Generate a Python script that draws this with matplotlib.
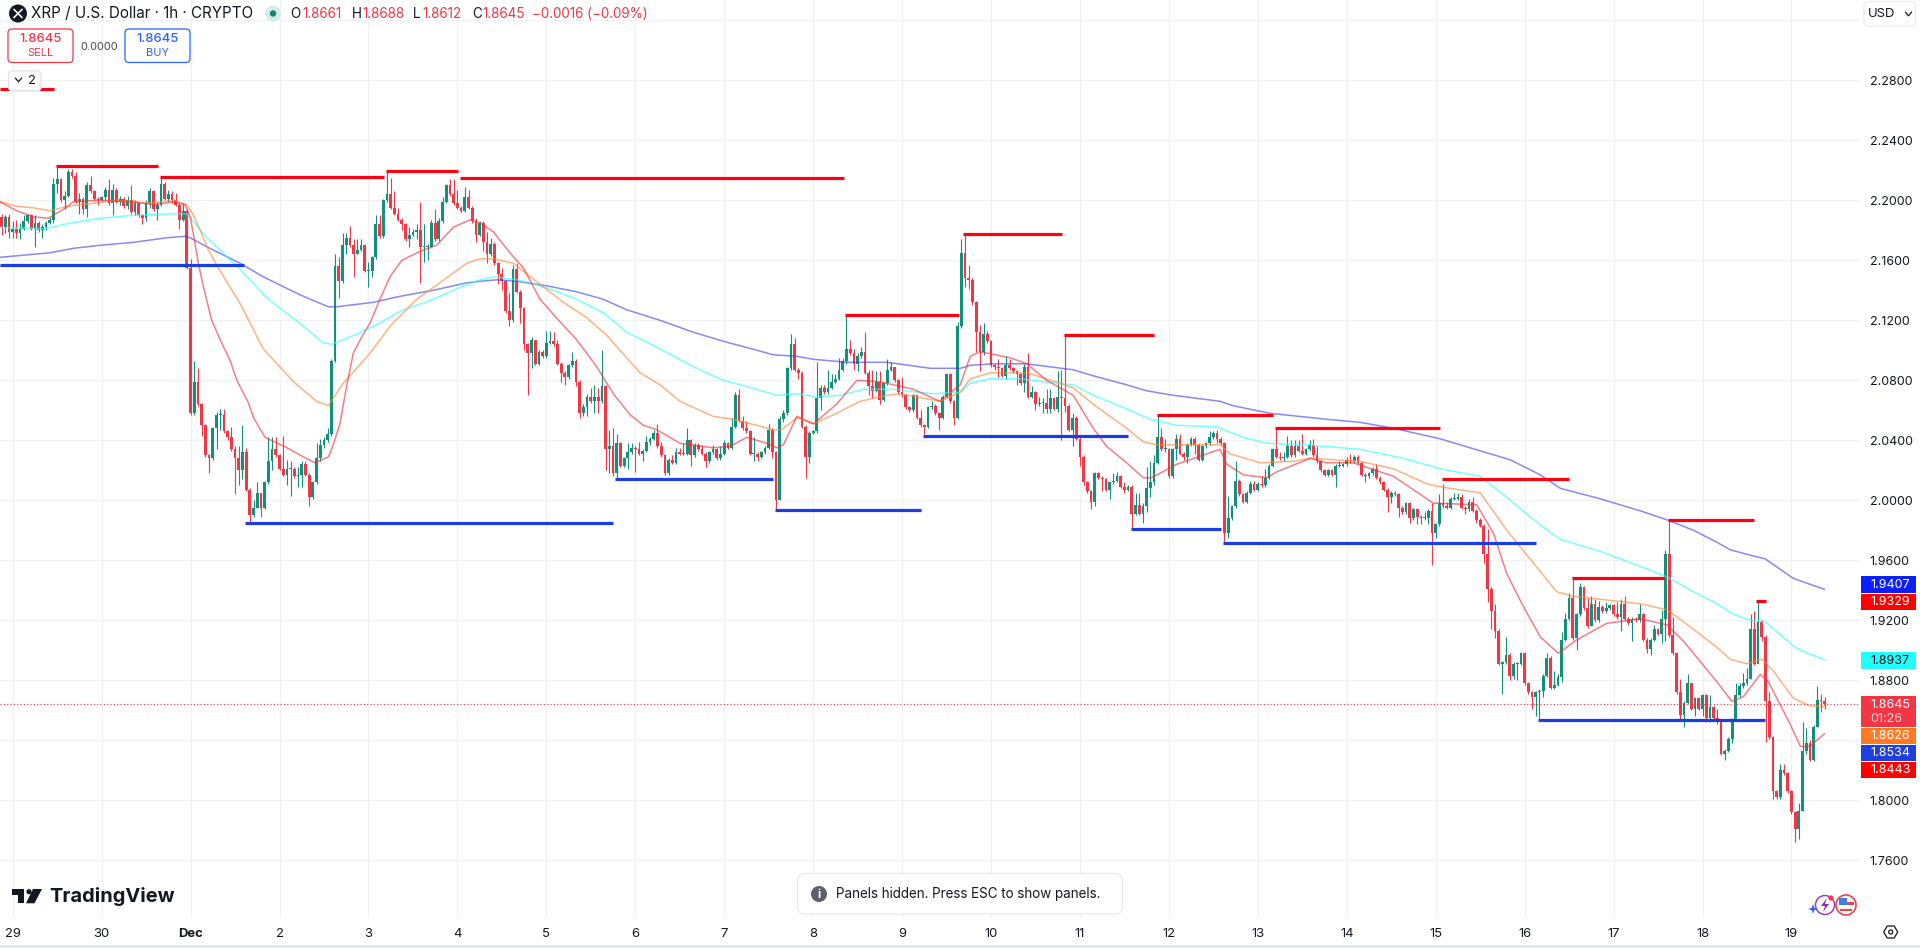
import numpy as np
import matplotlib
matplotlib.use("Agg")
import matplotlib.pyplot as plt
from matplotlib.patches import Circle, FancyBboxPatch, Polygon, Rectangle

plt.rcParams["font.family"] = ["Inter", "DejaVu Sans"]

# hourly candles, hour 0 = Nov 29 00:00
first_open = 2.189
closes = [
    2.182, 2.189, 2.179,
    2.181, 2.178, 2.181, 2.186, 2.190, 2.181, 2.185, 2.180, 2.182, 2.185, 2.187, 2.211, 2.214, 2.200, 2.203, 2.219, 2.216, 2.199, 2.201, 2.194, 2.210, 2.206, 2.201, 2.200,
    2.202, 2.207, 2.198, 2.207, 2.199, 2.201, 2.196, 2.200, 2.192, 2.198, 2.190, 2.188, 2.198, 2.206, 2.194, 2.197, 2.211, 2.201, 2.204, 2.200, 2.197, 2.187, 2.193, 2.155,
    2.058, 2.079, 2.064, 2.050, 2.030, 2.028, 2.048, 2.057, 2.057, 2.046, 2.042, 2.034, 2.028, 2.020, 2.032, 2.007, 1.990, 1.995, 2.005, 1.995, 2.012, 2.026, 2.034, 2.030,
    2.021, 2.017, 2.021, 2.021, 2.016, 2.017, 2.024, 2.017, 2.002, 2.012, 2.028, 2.037, 2.040, 2.044, 2.093, 2.156, 2.146, 2.170, 2.175, 2.170, 2.164, 2.167, 2.170, 2.153,
    2.153, 2.162, 2.184, 2.176, 2.200, 2.204, 2.195, 2.191, 2.187, 2.184, 2.174, 2.177, 2.179, 2.180, 2.169, 2.169, 2.169, 2.185, 2.174, 2.186, 2.199, 2.210, 2.204, 2.198,
    2.195, 2.193, 2.202, 2.195, 2.186, 2.177, 2.185, 2.172, 2.164, 2.171, 2.158, 2.151, 2.146, 2.126, 2.120, 2.154, 2.139, 2.128, 2.104, 2.098, 2.107, 2.091, 2.099, 2.096,
    2.105, 2.106, 2.104, 2.091, 2.085, 2.082, 2.090, 2.093, 2.079, 2.058, 2.062, 2.069, 2.066, 2.069, 2.066, 2.076, 2.034, 2.036, 2.018, 2.038, 2.023, 2.028, 2.032, 2.035,
    2.034, 2.031, 2.033, 2.039, 2.041, 2.045, 2.036, 2.030, 2.018, 2.027, 2.025, 2.032, 2.031, 2.031, 2.040, 2.030, 2.037, 2.034, 2.031, 2.026, 2.032, 2.034, 2.028, 2.031,
    2.038, 2.035, 2.049, 2.070, 2.053, 2.048, 2.046, 2.031, 2.031, 2.029, 2.032, 2.035, 2.047, 2.032, 2.000, 2.054, 2.058, 2.088, 2.104, 2.087, 2.085, 2.049, 2.029, 2.045,
    2.046, 2.068, 2.075, 2.072, 2.075, 2.079, 2.081, 2.087, 2.093, 2.101, 2.098, 2.091, 2.096, 2.099, 2.085, 2.076, 2.073, 2.079, 2.067, 2.078, 2.087, 2.089, 2.080, 2.072,
    2.070, 2.062, 2.060, 2.070, 2.055, 2.050, 2.049, 2.062, 2.063, 2.058, 2.055, 2.069, 2.084, 2.066, 2.055, 2.116, 2.165, 2.148, 2.147, 2.132, 2.112, 2.099, 2.111, 2.106,
    2.090, 2.089, 2.088, 2.083, 2.090, 2.088, 2.086, 2.084, 2.078, 2.089, 2.069, 2.072, 2.064, 2.065, 2.065, 2.061, 2.068, 2.061, 2.069, 2.068, 2.063, 2.047, 2.055, 2.041,
    2.029, 2.012, 2.006, 1.999, 2.018, 2.015, 2.014, 2.007, 2.012, 2.013, 2.016, 2.009, 2.007, 2.009, 1.991, 1.997, 1.991, 1.996, 2.008, 2.012, 2.025, 2.042, 2.034, 2.034,
    2.016, 2.034, 2.041, 2.031, 2.029, 2.037, 2.041, 2.037, 2.027, 2.036, 2.038, 2.042, 2.045, 2.041, 2.038, 1.978, 1.988, 1.996, 2.013, 2.004, 1.999, 2.005, 2.011, 2.007,
    2.011, 2.010, 2.015, 2.023, 2.034, 2.029, 2.028, 2.029, 2.036, 2.030, 2.036, 2.033, 2.031, 2.034, 2.037, 2.030, 2.026, 2.020, 2.017, 2.020, 2.017, 2.023, 2.023, 2.024,
    2.027, 2.026, 2.029, 2.025, 2.017, 2.016, 2.018, 2.021, 2.015, 2.012, 2.007, 2.002, 2.005, 2.004, 1.995, 1.992, 1.998, 1.988, 1.994, 1.989, 1.988, 1.988, 1.993, 1.978,
    1.984, 1.998, 1.996, 1.995, 2.001, 2.001, 2.002, 1.995, 1.994, 1.999, 1.993, 1.987, 1.983, 1.964, 1.941, 1.926, 1.913, 1.891, 1.892, 1.897, 1.883, 1.891, 1.891, 1.898,
    1.878, 1.872, 1.869, 1.872, 1.873, 1.883, 1.895, 1.875, 1.877, 1.882, 1.907, 1.921, 1.935, 1.908, 1.924, 1.942, 1.928, 1.916, 1.931, 1.920, 1.929, 1.926, 1.928, 1.930,
    1.924, 1.922, 1.931, 1.921, 1.918, 1.921, 1.920, 1.924, 1.907, 1.901, 1.907, 1.914, 1.911, 1.921, 1.964, 1.910, 1.898, 1.872, 1.857, 1.865, 1.878, 1.861, 1.868, 1.861,
    1.870, 1.855, 1.862, 1.855, 1.852, 1.831, 1.833, 1.841, 1.854, 1.870, 1.876, 1.878, 1.881, 1.914, 1.891, 1.919, 1.909, 1.866, 1.842, 1.806, 1.802, 1.820, 1.818, 1.806,
    1.792, 1.781, 1.793, 1.833, 1.838, 1.827, 1.849, 1.867, 1.8661, 1.8645,
]
highs = [
    2.191, 2.190, 2.191,
    2.186, 2.187, 2.185, 2.190, 2.191, 2.191, 2.190, 2.186, 2.184, 2.186, 2.189, 2.215, 2.222, 2.215, 2.206, 2.221, 2.221, 2.219, 2.205, 2.202, 2.212, 2.216, 2.207, 2.202,
    2.203, 2.209, 2.214, 2.211, 2.208, 2.203, 2.202, 2.203, 2.210, 2.200, 2.199, 2.191, 2.200, 2.208, 2.207, 2.199, 2.215, 2.212, 2.207, 2.206, 2.205, 2.198, 2.198, 2.194,
    2.161, 2.093, 2.088, 2.065, 2.051, 2.031, 2.049, 2.059, 2.061, 2.061, 2.047, 2.049, 2.036, 2.036, 2.050, 2.035, 2.008, 2.000, 2.012, 2.005, 2.013, 2.042, 2.042, 2.042,
    2.031, 2.043, 2.027, 2.026, 2.022, 2.022, 2.026, 2.026, 2.018, 2.013, 2.038, 2.041, 2.042, 2.048, 2.094, 2.164, 2.162, 2.178, 2.178, 2.183, 2.174, 2.174, 2.174, 2.171,
    2.159, 2.163, 2.190, 2.190, 2.201, 2.219, 2.215, 2.206, 2.195, 2.188, 2.185, 2.182, 2.181, 2.184, 2.199, 2.184, 2.171, 2.187, 2.194, 2.188, 2.202, 2.211, 2.214, 2.214,
    2.207, 2.196, 2.209, 2.207, 2.196, 2.188, 2.186, 2.186, 2.179, 2.175, 2.172, 2.159, 2.155, 2.147, 2.138, 2.157, 2.158, 2.140, 2.129, 2.105, 2.109, 2.107, 2.100, 2.100,
    2.113, 2.113, 2.112, 2.107, 2.092, 2.086, 2.091, 2.099, 2.094, 2.080, 2.064, 2.071, 2.075, 2.077, 2.075, 2.100, 2.077, 2.047, 2.048, 2.044, 2.039, 2.029, 2.038, 2.038,
    2.036, 2.039, 2.034, 2.043, 2.042, 2.047, 2.051, 2.039, 2.031, 2.028, 2.030, 2.035, 2.035, 2.038, 2.048, 2.041, 2.038, 2.038, 2.037, 2.032, 2.033, 2.037, 2.035, 2.036,
    2.040, 2.039, 2.055, 2.072, 2.074, 2.056, 2.053, 2.047, 2.042, 2.032, 2.033, 2.036, 2.051, 2.048, 2.033, 2.056, 2.060, 2.089, 2.111, 2.108, 2.088, 2.086, 2.050, 2.046,
    2.047, 2.092, 2.077, 2.077, 2.087, 2.084, 2.084, 2.095, 2.095, 2.124, 2.107, 2.101, 2.098, 2.102, 2.112, 2.087, 2.087, 2.086, 2.086, 2.079, 2.094, 2.092, 2.089, 2.081,
    2.082, 2.071, 2.063, 2.071, 2.070, 2.060, 2.051, 2.063, 2.066, 2.064, 2.059, 2.070, 2.085, 2.085, 2.067, 2.119, 2.174, 2.178, 2.157, 2.148, 2.133, 2.117, 2.118, 2.113,
    2.107, 2.091, 2.094, 2.089, 2.096, 2.094, 2.089, 2.087, 2.085, 2.091, 2.098, 2.076, 2.073, 2.069, 2.068, 2.074, 2.074, 2.069, 2.086, 2.087, 2.110, 2.064, 2.058, 2.056,
    2.042, 2.030, 2.013, 2.007, 2.019, 2.019, 2.016, 2.015, 2.013, 2.018, 2.019, 2.017, 2.012, 2.010, 2.010, 2.005, 2.005, 1.998, 2.022, 2.026, 2.030, 2.057, 2.048, 2.041,
    2.035, 2.035, 2.044, 2.044, 2.032, 2.038, 2.042, 2.042, 2.038, 2.037, 2.039, 2.046, 2.046, 2.047, 2.042, 2.039, 2.003, 1.997, 2.026, 2.014, 2.005, 2.006, 2.013, 2.013,
    2.012, 2.016, 2.021, 2.024, 2.035, 2.049, 2.032, 2.032, 2.043, 2.040, 2.040, 2.040, 2.044, 2.035, 2.040, 2.041, 2.036, 2.027, 2.021, 2.021, 2.021, 2.024, 2.026, 2.025,
    2.029, 2.031, 2.030, 2.030, 2.026, 2.018, 2.019, 2.022, 2.024, 2.016, 2.013, 2.008, 2.006, 2.006, 2.005, 1.996, 1.999, 1.999, 1.995, 1.995, 1.990, 1.992, 1.994, 1.998,
    1.985, 2.004, 2.011, 1.999, 2.002, 2.005, 2.005, 2.004, 1.996, 2.001, 2.002, 1.994, 1.988, 1.984, 1.981, 1.942, 1.931, 1.914, 1.893, 1.909, 1.898, 1.892, 1.892, 1.899,
    1.899, 1.879, 1.873, 1.873, 1.874, 1.884, 1.898, 1.896, 1.886, 1.884, 1.912, 1.925, 1.938, 1.948, 1.925, 1.945, 1.943, 1.935, 1.936, 1.934, 1.933, 1.930, 1.932, 1.931,
    1.931, 1.932, 1.934, 1.936, 1.922, 1.922, 1.922, 1.931, 1.925, 1.908, 1.908, 1.917, 1.915, 1.927, 1.967, 1.987, 1.922, 1.899, 1.881, 1.866, 1.884, 1.878, 1.869, 1.869,
    1.871, 1.871, 1.870, 1.863, 1.861, 1.853, 1.834, 1.842, 1.855, 1.878, 1.878, 1.885, 1.888, 1.924, 1.926, 1.933, 1.920, 1.910, 1.872, 1.843, 1.807, 1.824, 1.824, 1.819,
    1.807, 1.793, 1.798, 1.852, 1.848, 1.840, 1.850, 1.876, 1.871, 1.8688,
]
lows = [
    2.177, 2.178, 2.175,
    2.175, 2.175, 2.174, 2.180, 2.185, 2.180, 2.169, 2.179, 2.175, 2.180, 2.184, 2.185, 2.205, 2.199, 2.194, 2.202, 2.215, 2.198, 2.191, 2.191, 2.189, 2.205, 2.200, 2.197,
    2.199, 2.200, 2.197, 2.190, 2.198, 2.197, 2.195, 2.194, 2.191, 2.190, 2.189, 2.184, 2.186, 2.195, 2.193, 2.187, 2.196, 2.200, 2.199, 2.198, 2.196, 2.181, 2.186, 2.154,
    2.057, 2.057, 2.063, 2.043, 2.029, 2.018, 2.027, 2.034, 2.047, 2.045, 2.040, 2.033, 2.004, 2.010, 2.014, 2.006, 1.985, 1.989, 1.995, 1.989, 1.994, 2.011, 2.020, 2.029,
    2.020, 2.016, 2.010, 2.003, 2.015, 2.009, 2.009, 2.016, 1.996, 2.001, 2.011, 2.026, 2.035, 2.039, 2.043, 2.092, 2.135, 2.145, 2.164, 2.169, 2.149, 2.164, 2.166, 2.152,
    2.142, 2.149, 2.161, 2.175, 2.175, 2.199, 2.194, 2.190, 2.186, 2.180, 2.173, 2.169, 2.176, 2.174, 2.145, 2.159, 2.160, 2.169, 2.173, 2.173, 2.185, 2.198, 2.203, 2.197,
    2.194, 2.192, 2.192, 2.194, 2.185, 2.172, 2.176, 2.166, 2.158, 2.163, 2.157, 2.144, 2.140, 2.125, 2.116, 2.119, 2.138, 2.118, 2.100, 2.070, 2.088, 2.090, 2.090, 2.095,
    2.095, 2.104, 2.103, 2.090, 2.079, 2.077, 2.081, 2.089, 2.076, 2.055, 2.056, 2.056, 2.065, 2.058, 2.058, 2.065, 2.020, 2.018, 2.016, 2.014, 2.022, 2.022, 2.021, 2.031,
    2.019, 2.030, 2.026, 2.032, 2.037, 2.040, 2.035, 2.029, 2.017, 2.017, 2.024, 2.024, 2.030, 2.030, 2.030, 2.023, 2.029, 2.033, 2.030, 2.022, 2.025, 2.031, 2.027, 2.027,
    2.030, 2.034, 2.034, 2.048, 2.052, 2.047, 2.045, 2.030, 2.026, 2.026, 2.028, 2.031, 2.034, 2.028, 1.994, 2.000, 2.052, 2.057, 2.087, 2.086, 2.081, 2.048, 2.015, 2.025,
    2.044, 2.045, 2.060, 2.071, 2.071, 2.074, 2.078, 2.080, 2.086, 2.091, 2.097, 2.087, 2.086, 2.095, 2.084, 2.070, 2.068, 2.072, 2.064, 2.066, 2.077, 2.086, 2.079, 2.071,
    2.069, 2.061, 2.059, 2.059, 2.054, 2.049, 2.044, 2.048, 2.061, 2.057, 2.047, 2.054, 2.068, 2.065, 2.050, 2.054, 2.115, 2.142, 2.141, 2.130, 2.099, 2.086, 2.097, 2.105,
    2.089, 2.087, 2.082, 2.082, 2.081, 2.087, 2.085, 2.077, 2.077, 2.072, 2.068, 2.068, 2.060, 2.063, 2.058, 2.058, 2.058, 2.060, 2.059, 2.040, 2.059, 2.046, 2.036, 2.040,
    2.023, 2.010, 2.005, 1.994, 1.996, 2.014, 2.006, 2.006, 2.001, 2.011, 2.012, 2.008, 2.005, 2.006, 1.981, 1.990, 1.990, 1.985, 1.992, 2.002, 2.010, 2.024, 2.033, 2.032,
    2.015, 2.015, 2.027, 2.030, 2.027, 2.025, 2.036, 2.031, 2.026, 2.026, 2.035, 2.037, 2.041, 2.038, 2.037, 1.972, 1.975, 1.987, 1.995, 2.003, 1.998, 1.998, 2.004, 2.006,
    2.006, 2.009, 2.009, 2.014, 2.022, 2.028, 2.027, 2.026, 2.028, 2.029, 2.029, 2.032, 2.030, 2.030, 2.033, 2.029, 2.025, 2.019, 2.016, 2.016, 2.016, 2.009, 2.022, 2.022,
    2.023, 2.025, 2.025, 2.024, 2.016, 2.012, 2.015, 2.017, 2.014, 2.011, 2.006, 1.992, 1.998, 2.003, 1.989, 1.991, 1.991, 1.985, 1.987, 1.984, 1.984, 1.987, 1.984, 1.957,
    1.975, 1.983, 1.995, 1.994, 1.994, 2.000, 2.000, 1.994, 1.991, 1.993, 1.992, 1.985, 1.982, 1.958, 1.932, 1.914, 1.908, 1.890, 1.871, 1.891, 1.880, 1.881, 1.880, 1.890,
    1.877, 1.871, 1.861, 1.856, 1.855, 1.869, 1.882, 1.874, 1.874, 1.876, 1.879, 1.906, 1.920, 1.907, 1.900, 1.923, 1.927, 1.915, 1.916, 1.919, 1.919, 1.925, 1.925, 1.927,
    1.923, 1.921, 1.913, 1.920, 1.917, 1.906, 1.919, 1.919, 1.906, 1.898, 1.897, 1.906, 1.910, 1.905, 1.906, 1.909, 1.897, 1.871, 1.853, 1.849, 1.864, 1.860, 1.856, 1.860,
    1.856, 1.852, 1.852, 1.854, 1.851, 1.830, 1.827, 1.832, 1.838, 1.853, 1.869, 1.875, 1.877, 1.881, 1.890, 1.896, 1.906, 1.839, 1.841, 1.801, 1.801, 1.801, 1.817, 1.805,
    1.791, 1.772, 1.774, 1.793, 1.831, 1.826, 1.826, 1.849, 1.859, 1.8612,
]

red_ma_x = [-3.4, 1.1, 5.6, 9.6, 13.7, 16.4, 23.6, 32.6, 38, 43.4, 46.5, 47.9, 48.8, 49.7, 50.1, 51.5, 53.7, 56, 58.7, 60.5, 63.6, 65, 68.1, 74, 78.4, 81.6, 85.2, 86.5, 88.3, 90.1, 91.9, 94.2, 96.4, 99.1, 101.8, 105, 110, 114.4, 118.9, 123.4, 126.1, 129.7, 134.2, 137.8, 142.3, 147.7, 152.2, 157.6, 162.1, 166.6, 170.2, 173.8, 180.1, 189, 193.6, 198.1, 203.5, 206.2, 208, 211.6, 216.1, 222.3, 227.8, 234.1, 243.1, 250.2, 255.7, 258.4, 261.1, 269.2, 273.7, 279, 286.2, 291.6, 295.2, 300.6, 305.1, 307.3, 314.1, 325.8, 327.6, 332.1, 338.4, 341.1, 350.2, 354.6, 361.8, 372.6, 383.4, 385.2, 395.1, 399.6, 403.2, 407.7, 412.2, 417.1, 422.1, 430.2, 439.2, 446.4, 450.9, 459.9, 463.9, 467, 471.6, 473.8, 479.6, 482.4, 485, 488.9]
red_ma = [2.199, 2.193, 2.189, 2.188, 2.194, 2.199, 2.200, 2.199, 2.197, 2.199, 2.197, 2.189, 2.177, 2.164, 2.158, 2.142, 2.120, 2.107, 2.093, 2.080, 2.065, 2.055, 2.042, 2.035, 2.029, 2.025, 2.029, 2.037, 2.051, 2.076, 2.098, 2.109, 2.118, 2.134, 2.149, 2.160, 2.166, 2.170, 2.182, 2.187, 2.185, 2.179, 2.165, 2.155, 2.134, 2.119, 2.107, 2.089, 2.071, 2.057, 2.050, 2.047, 2.038, 2.035, 2.036, 2.042, 2.038, 2.035, 2.037, 2.056, 2.051, 2.064, 2.080, 2.079, 2.074, 2.066, 2.077, 2.096, 2.099, 2.095, 2.091, 2.080, 2.070, 2.048, 2.036, 2.025, 2.015, 2.015, 2.024, 2.034, 2.024, 2.017, 2.015, 2.019, 2.028, 2.025, 2.025, 2.016, 1.998, 1.998, 1.997, 1.978, 1.951, 1.929, 1.909, 1.898, 1.907, 1.918, 1.921, 1.917, 1.906, 1.879, 1.866, 1.869, 1.884, 1.879, 1.851, 1.836, 1.836, 1.8443]
orange_ma_x = [-3.4, 1.1, 5.6, 10.1, 14.6, 21.8, 28.1, 37.1, 43.4, 47, 48.8, 50.6, 52.8, 55, 61.4, 67.6, 75.8, 82, 85.2, 89.2, 96.4, 101.8, 109, 115.3, 122.5, 126.1, 129.7, 135.1, 142.3, 148.6, 154.8, 160.3, 169.3, 174.7, 180.1, 189, 194.5, 205.3, 207.5, 211.6, 216.1, 221.5, 228.7, 235.9, 239.5, 250.2, 255.7, 258.4, 263.8, 273.7, 282.7, 286.2, 291.6, 300.6, 305.1, 308.7, 325.8, 328.5, 336.6, 345.6, 350.2, 363.6, 372.6, 381.6, 385.2, 396, 403.2, 410.4, 416.7, 421.2, 439.2, 446.4, 450.9, 459.9, 463.5, 468, 472, 475.2, 480.5, 485, 488.9]
orange_ma = [2.199, 2.196, 2.195, 2.193, 2.196, 2.198, 2.200, 2.198, 2.200, 2.197, 2.190, 2.180, 2.167, 2.157, 2.131, 2.101, 2.079, 2.066, 2.063, 2.078, 2.098, 2.116, 2.134, 2.145, 2.158, 2.161, 2.161, 2.158, 2.144, 2.132, 2.122, 2.110, 2.085, 2.077, 2.066, 2.056, 2.054, 2.047, 2.047, 2.055, 2.051, 2.057, 2.066, 2.070, 2.071, 2.066, 2.072, 2.081, 2.085, 2.085, 2.078, 2.075, 2.064, 2.048, 2.039, 2.037, 2.037, 2.031, 2.025, 2.026, 2.028, 2.026, 2.021, 2.011, 2.009, 2.005, 1.980, 1.958, 1.939, 1.936, 1.931, 1.927, 1.919, 1.902, 1.894, 1.891, 1.894, 1.886, 1.868, 1.863, 1.8626]
cyan_ma_x = [-3.4, 8.3, 15.9, 23.6, 32.6, 43.4, 47, 52.4, 61.4, 68.5, 77.5, 83.8, 86.1, 92, 98.2, 104.5, 113.5, 120.7, 126.1, 129.7, 136, 139.6, 145.9, 152.2, 159.4, 165.7, 174.7, 183.7, 191.8, 197.9, 206.2, 211.6, 217, 223.3, 229.6, 238.6, 247.6, 255.7, 258.4, 263.8, 271.9, 278.1, 286.2, 291.6, 300.6, 306.9, 314.1, 324.9, 332.1, 338.4, 349.2, 363.6, 375.3, 385.2, 396, 403.2, 410.4, 417.6, 428.4, 439.2, 446.4, 453.6, 459.9, 464.4, 468.9, 472.9, 480.5, 482.4, 488.9]
cyan_ma = [2.182, 2.181, 2.185, 2.188, 2.190, 2.191, 2.191, 2.175, 2.154, 2.135, 2.118, 2.105, 2.104, 2.110, 2.117, 2.126, 2.134, 2.142, 2.147, 2.149, 2.147, 2.145, 2.140, 2.134, 2.125, 2.112, 2.101, 2.089, 2.080, 2.076, 2.070, 2.071, 2.069, 2.070, 2.074, 2.074, 2.071, 2.072, 2.078, 2.081, 2.081, 2.079, 2.077, 2.070, 2.061, 2.054, 2.050, 2.049, 2.042, 2.038, 2.037, 2.034, 2.028, 2.021, 2.016, 2.002, 1.987, 1.974, 1.966, 1.956, 1.949, 1.939, 1.931, 1.924, 1.920, 1.919, 1.903, 1.900, 1.8937]
blue_ma_x = [-3.4, 10, 16.4, 23.6, 32.6, 41.6, 46.5, 47.9, 52.4, 61.4, 67.6, 77.5, 85.2, 87.4, 97.3, 104.5, 113.5, 122.5, 126.1, 130.6, 136, 144.1, 152.2, 159.4, 165.7, 174.7, 183.7, 191.8, 197.9, 205.3, 211.6, 216.1, 225.1, 235.9, 247.6, 255.7, 258.4, 264.6, 273.6, 286.2, 291.6, 300.6, 306, 313.2, 325.8, 329.4, 339.3, 354.6, 363.6, 372.6, 385.2, 404.1, 412.2, 417.6, 428.4, 439.2, 446.4, 453.6, 459.9, 463.5, 468, 472.9, 480.5, 485, 488.9]
blue_ma = [2.162, 2.165, 2.168, 2.170, 2.172, 2.175, 2.176, 2.175, 2.169, 2.158, 2.149, 2.137, 2.129, 2.129, 2.132, 2.136, 2.140, 2.145, 2.146, 2.147, 2.146, 2.143, 2.139, 2.134, 2.127, 2.120, 2.112, 2.106, 2.102, 2.097, 2.096, 2.094, 2.092, 2.092, 2.088, 2.088, 2.090, 2.091, 2.091, 2.087, 2.083, 2.077, 2.073, 2.070, 2.066, 2.063, 2.058, 2.054, 2.052, 2.048, 2.041, 2.027, 2.017, 2.008, 2.001, 1.993, 1.987, 1.980, 1.972, 1.967, 1.964, 1.961, 1.948, 1.944, 1.9407]

# swing levels: start hour, end hour, price
high_start = [-3.4, 11.7, 39.8, 100.8, 120.7, 224.7, 256.5, 283.7, 308.7, 340.7, 385.7, 420.7, 446.6, 470.5]
high_end = [11.1, 39.1, 100.2, 120.3, 224.2, 255.3, 283.1, 308.1, 340.2, 385.2, 420.1, 445.7, 470.0, 473.2]
high_price = [2.2745, 2.2226, 2.2153, 2.2195, 2.2146, 2.1235, 2.1776, 2.1102, 2.0571, 2.0485, 2.0142, 1.9480, 1.9871, 1.9329]
low_start = [-3.4, 62.7, 162.5, 205.7, 245.6, 301.7, 326.7, 411.6]
low_end = [62.3, 162.1, 205.1, 245.0, 301.1, 326.1, 411.1, 472.9]
low_price = [2.1569, 1.9846, 2.0140, 1.9935, 2.0429, 1.9809, 1.9716, 1.8534]

price_ticks = [1.76, 1.80, 1.84, 1.88, 1.92, 1.96, 2.00, 2.04, 2.08, 2.12, 2.16, 2.20, 2.24, 2.28, 2.32]
price_labels = ["1.7600", "1.8000", "", "1.8800", "1.9200", "1.9600", "2.0000", "2.0400", "2.0800", "2.1200", "2.1600", "2.2000", "2.2400", "2.2800", ""]
day_ticks = list(range(0, 481, 24))
day_labels = ["29", "30", "Dec", "2", "3", "4", "5", "6", "7", "8", "9", "10", "11", "12", "13", "14", "15", "16", "17", "18", "19"]

# price badges on the right: text, colour, text colour
badge_labels = ["1.9407", "1.9329", "1.8937", "1.8626", "1.8534", "1.8443"]
badge_colors = ["#0a1eff", "#ff0000", "#1fffff", "#ff7a22", "#1e3fdc", "#ff0000"]
badge_text = ["white", "white", "#131722", "white", "white", "white"]
last_price = 1.8645

UP = "#12907a"
DOWN = "#f23645"
GRID = "#f0f1f3"
INK = "#131722"
W, H = 1920, 948


def px(size):
    return size * 0.72


fig = plt.figure(figsize=(W / 100, H / 100), dpi=100, facecolor="white")
ax = fig.add_axes([0, (H - 918) / H, 1860 / W, 918 / H])
ax.set_xlim(-3.427, 498.5)
ax.set_ylim(2 - (918 - 500.3) / 1500, 2 + 500.3 / 1500)
for s in ax.spines.values():
    s.set_visible(False)
ax.set_axisbelow(True)
ax.grid(True, color=GRID, linewidth=0.9)
ax.yaxis.tick_right()
ax.set_yticks(price_ticks, price_labels, fontsize=px(12.5), color=INK)
ax.set_xticks(day_ticks, day_labels, fontsize=px(13), color=INK)
ax.tick_params(axis="both", length=0)
ax.tick_params(axis="y", pad=7)
ax.tick_params(axis="x", pad=7)
ax.get_xticklabels()[2].set_fontweight("bold")

hours = np.arange(-3, 490)
closes = np.array(closes)
opens = np.r_[first_open, closes[:-1]]
highs = np.array(highs)
lows = np.array(lows)
assert len(closes) == len(highs) == len(lows) == len(hours)

colors = [UP if c >= o else DOWN for o, c in zip(opens, closes)]
ax.vlines(hours, lows, highs, colors=colors, linewidth=0.8, zorder=2)
body = np.maximum(np.abs(closes - opens), 0.0007)
ax.bar(hours, body, bottom=np.minimum(opens, closes), width=0.74, color=colors, linewidth=0, zorder=3)

ma_style = dict(lw=1.1, zorder=4, solid_joinstyle="round")
ax.plot(blue_ma_x, blue_ma, color="#3a3af0", alpha=0.6, **ma_style)
ax.plot(cyan_ma_x, cyan_ma, color="#30ffff", alpha=0.65, **ma_style)
ax.plot(orange_ma_x, orange_ma, color="#ff8a3c", alpha=0.65, **ma_style)
ax.plot(red_ma_x, red_ma, color="#f22f3c", alpha=0.62, **ma_style)

ax.hlines(high_price, high_start, high_end, colors="#ff0012", linewidth=2.3, zorder=5)
ax.hlines(low_price, low_start, low_end, colors="#1a3de4", linewidth=2.3, zorder=5)
ax.axhline(last_price, color=DOWN, lw=0.8, ls=(0, (1, 2)), zorder=5)

# everything around the chart, in screen pixels
ui = fig.add_axes([0, 0, 1, 1], zorder=10)
ui.set_xlim(0, W)
ui.set_ylim(H, 0)
ui.axis("off")
ui.patch.set_alpha(0)


def box(x0, y0, x1, y1, ec, fc="white", r=4, lw=0.9):
    ui.add_patch(FancyBboxPatch((x0, y0), x1 - x0, y1 - y0, boxstyle=f"round,pad=0,rounding_size={r}",
                                ec=ec, fc=fc, lw=lw))


def label(x, y, s, size=13, color=INK, ha="left", weight="normal"):
    ui.text(x, y, s, fontsize=px(size), color=color, ha=ha, va="center", fontweight=weight)


def chevron(x, y, s=3, color=INK):
    ui.plot([x - s, x, x + s], [y - s * 0.6, y + s * 0.6, y - s * 0.6], color=color, lw=0.9)


# header
ui.add_patch(Circle((18, 13.5), 9, fc="#131722", ec="none"))
ui.plot([14, 22], [9.5, 17.5], color="white", lw=1.1)
ui.plot([14, 22], [17.5, 9.5], color="white", lw=1.1)
label(31, 13.5, "XRP / U.S. Dollar · 1h · CRYPTO", 15.2)
ui.add_patch(Circle((273, 13.5), 8, fc="#d6ece8", ec="none"))
ui.add_patch(Circle((273, 13.5), 3.2, fc="#0f8a70", ec="none"))
for x_key, key, x_val, val in [(290, "O", 302.5, "1.8661"), (352, "H", 362.5, "1.8688"),
                               (413, "L", 422, "1.8612"), (472, "C", 482.5, "1.8645")]:
    label(x_key, 13.5, key, 13.5)
    label(x_val, 13.5, val, 13.5, DOWN)
label(532, 13.5, "−0.0016 (−0.09%)", 13.5, DOWN)

box(8, 29, 73, 62.5, DOWN)
label(40.5, 39, "1.8645", 13, DOWN, "center", "medium")
label(40.5, 53, "SELL", 11, DOWN, "center")
label(99, 47, "0.0000", 11, "#434651", "center")
box(125, 29, 190, 62.5, "#2962ff")
label(157.5, 39, "1.8645", 13, "#2962ff", "center", "medium")
label(157.5, 53, "BUY", 11, "#2962ff", "center")
box(8.5, 71, 41, 90.5, "#e0e3eb", r=3)
chevron(18.5, 80)
label(28, 81, "2", 13)

box(1864, 1.5, 1915.5, 26, "#e9ebf0", r=4)
label(1868, 14, "USD", 13)
chevron(1908.5, 14)

# badges
ui.add_patch(Rectangle((1861, 696), 55, 31, fc=DOWN, ec="none"))
label(1870, 705, "1.8645", 12.5, "white")
label(1870, 718.5, "01:26", 12.5, "#fbd0d4")
badge_tops = [576, 593.5, 652, 727.5, 744.5, 761.5]
for top, s, fc, tc in zip(badge_tops, badge_labels, badge_colors, badge_text):
    ui.add_patch(Rectangle((1861, top), 55, 16.5, fc=fc, ec="none"))
    label(1870, top + 8.5, s, 12.5, tc)

# logo
ui.add_patch(Polygon([(12.3, 889), (24.3, 889), (24.3, 903.3), (18.3, 903.3), (18.3, 895), (12.3, 895)], fc=INK, ec="none"))
ui.add_patch(Circle((29, 891.7), 2.6, fc=INK, ec="none"))
ui.add_patch(Polygon([(33, 889), (42, 889), (34.5, 903.3), (26, 903.3)], fc=INK, ec="none"))
ui.text(49, 897, "TradingView", fontsize=px(20), color=INK, va="center", ha="left", fontweight="bold")

# toast
box(797.5, 873.5, 1122.5, 914, "#e6e8ee", r=7)
ui.add_patch(Circle((819, 894), 8, fc="#5d606b", ec="none"))
ui.text(819, 894.5, "i", fontsize=px(12), color="white", ha="center", va="center", fontweight="bold")
label(836.5, 894, "Panels hidden. Press ESC to show panels.", 13.45)

# badge icons
ui.add_patch(Circle((1825, 905), 9.5, fc="white", ec="#9a3fb8", lw=1.1))
ui.add_patch(Polygon([(1827, 898), (1821, 906), (1825, 906), (1823, 912), (1829, 904), (1825, 904)], fc="#8e2fb0", ec="none"))
ui.add_patch(Polygon([(1813, 904), (1814.2, 907.8), (1818, 909), (1814.2, 910.2), (1813, 914), (1811.8, 910.2), (1808, 909), (1811.8, 907.8)], fc="#3a5cf5", ec="none"))
ui.add_patch(Circle((1831, 898), 2.6, fc=DOWN, ec="none"))
ui.add_patch(Circle((1846, 905), 10, fc="white", ec="#f0404e", lw=1.2))
ui.add_patch(Rectangle((1839, 898), 8, 7, fc="#3f7fe0", ec="none"))
ui.add_patch(Rectangle((1847, 902), 7, 2.5, fc="#f0404e", ec="none"))
ui.add_patch(Rectangle((1840, 908.5), 12, 2.5, fc="#f0404e", ec="none"))

# gear hexagon
cx, cy = 1890.7, 932
ui.add_patch(Polygon([(cx - 7, cy), (cx - 3.5, cy - 6), (cx + 3.5, cy - 6), (cx + 7, cy), (cx + 3.5, cy + 6), (cx - 3.5, cy + 6)],
                     fc="none", ec=INK, lw=0.9))
ui.add_patch(Circle((cx, cy), 2, fc="none", ec=INK, lw=0.9))

ui.add_patch(Rectangle((0, 945), W, 3, fc="#e4e6ea", ec="none"))

fig.savefig("out.png", dpi=100)
